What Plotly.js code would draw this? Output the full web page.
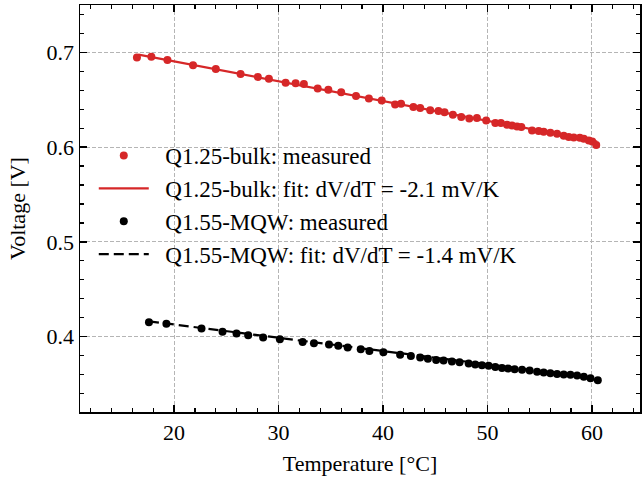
<!DOCTYPE html>
<html>
<head>
<meta charset="utf-8">
<script src="https://cdn.plot.ly/plotly-3.0.1.min.js"></script>
<style>html,body{margin:0;padding:0;background:#fff}#chart{width:642px;height:481px}</style>
</head>
<body>
<div id="chart"></div>
<script>
// Q1.25-bulk measured
const bulkT = [16.45,17.83,19.37,21.82,24.0,26.37,28.02,29.08,30.68,31.64,32.43,33.75,34.77,36.0,37.42,38.65,39.88,41.16,41.73,42.91,43.56,44.52,45.31,45.89,46.69,47.49,48.26,48.99,49.88,50.75,51.29,51.87,52.35,52.83,53.24,54.27,54.9,55.38,56.02,56.66,57.3,57.78,58.26,58.84,59.22,59.7,60.03,60.41];
const bulkV = [0.6947,0.6955,0.692,0.6863,0.6825,0.6772,0.674,0.6722,0.668,0.6673,0.6666,0.662,0.6606,0.6578,0.6541,0.6514,0.6493,0.6451,0.6458,0.6423,0.6413,0.6388,0.6381,0.6367,0.6342,0.6318,0.6303,0.6307,0.6282,0.6254,0.6254,0.6237,0.6229,0.6219,0.6212,0.6176,0.617,0.6163,0.6152,0.6141,0.612,0.6107,0.6102,0.6099,0.6089,0.6071,0.606,0.6022];
// Q1.25-bulk fit endpoints
const bulkFitT = [16.6, 60.5];
const bulkFitV = [0.6976, 0.6058];
// Q1.55-MQW measured
const mqwT = [17.6,19.27,22.63,24.64,25.98,27.1,28.53,30.13,32.31,33.39,34.83,35.72,36.62,37.87,38.7,40.04,41.64,42.67,43.56,44.3,45.09,45.8,46.6,47.33,48.2,48.83,49.47,50.11,50.75,51.39,51.97,52.6,53.31,54.04,54.75,55.38,56.02,56.66,57.3,57.94,58.58,59.22,59.86,60.56];
const mqwV = [0.4153,0.4135,0.4086,0.4051,0.4033,0.4016,0.399,0.3973,0.3945,0.3931,0.3917,0.3903,0.3885,0.3868,0.385,0.3836,0.3808,0.3797,0.378,0.3766,0.3755,0.3748,0.3737,0.3731,0.3716,0.3705,0.3699,0.3692,0.3681,0.367,0.3663,0.3657,0.365,0.3642,0.3631,0.3621,0.3614,0.3607,0.36,0.3597,0.3589,0.3576,0.3562,0.3541];
// Q1.55-MQW fit endpoints
const mqwFitT = [17.6, 60.5];
const mqwFitV = [0.4162, 0.3561];

const names = ['Q1.25-bulk: measured','Q1.25-bulk: fit: dV/dT = -2.1 mV/K','Q1.55-MQW: measured','Q1.55-MQW: fit: dV/dT = -1.4 mV/K'];
const xTicks = [20,30,40,50,60];
const yTicks = [0.4,0.5,0.6,0.7];

const red = '#d62728';
const FONT = '"Liberation Serif", "Times New Roman", Times, serif';
const PAD = '\u00a0\u00a0';

const traces = [
  {x: bulkT, y: bulkV, mode:'markers', name:PAD+names[0], marker:{color:red, size:8}},
  {x: bulkFitT, y: bulkFitV, mode:'lines', name:PAD+names[1], line:{color:red, width:2.2}},
  {x: mqwT, y: mqwV, mode:'markers', name:PAD+names[2], marker:{color:'#000', size:8}},
  {x: mqwFitT, y: mqwFitV, mode:'lines', name:PAD+names[3], line:{color:'#000', width:2.2, dash:'10px,5px'}}
];

const axisCommon = {
  showline:true, linecolor:'#000', linewidth:1.5, mirror:'allticks',
  ticks:'inside', ticklen:7, tickwidth:1.5, tickcolor:'#000',
  showgrid:true, gridcolor:'#b5b5b5', gridwidth:1, griddash:'4px,2px',
  zeroline:false, tickfont:{family:FONT, size:22, color:'#000'}
};

const layout = {
  width:642, height:481,
  margin:{l:80, r:2, t:5, b:69},
  paper_bgcolor:'#fff', plot_bgcolor:'#fff',
  font:{family:FONT, size:22, color:'#000'},
  showlegend:true,
  legend:{x:0.0246, y:0.683, xanchor:'left', yanchor:'top', bgcolor:'rgba(0,0,0,0)', font:{family:FONT, size:23, color:'#000'}, itemwidth:50},
  xaxis: Object.assign({}, axisCommon, {
    range:[11, 64.6], tickvals:xTicks, ticktext:xTicks.map(String),
    minor:{dtick:2, tick0:0, ticks:'inside', ticklen:4, tickwidth:1.2, tickcolor:'#000', showgrid:false},
    title:{text:'Temperature [°C]', font:{family:FONT, size:22, color:'#000'}, standoff:11}
  }),
  yaxis: Object.assign({}, axisCommon, {
    range:[0.3205, 0.75], tickvals:yTicks, ticktext:yTicks.map(v=>v.toFixed(1)),
    minor:{dtick:0.02, tick0:0, ticks:'inside', ticklen:4, tickwidth:1.2, tickcolor:'#000', showgrid:false},
    title:{text:'Voltage [V]', font:{family:FONT, size:22, color:'#000'}, standoff:15}
  })
};

Plotly.newPlot('chart', traces, layout, {staticPlot:true});
</script>
</body>
</html>
